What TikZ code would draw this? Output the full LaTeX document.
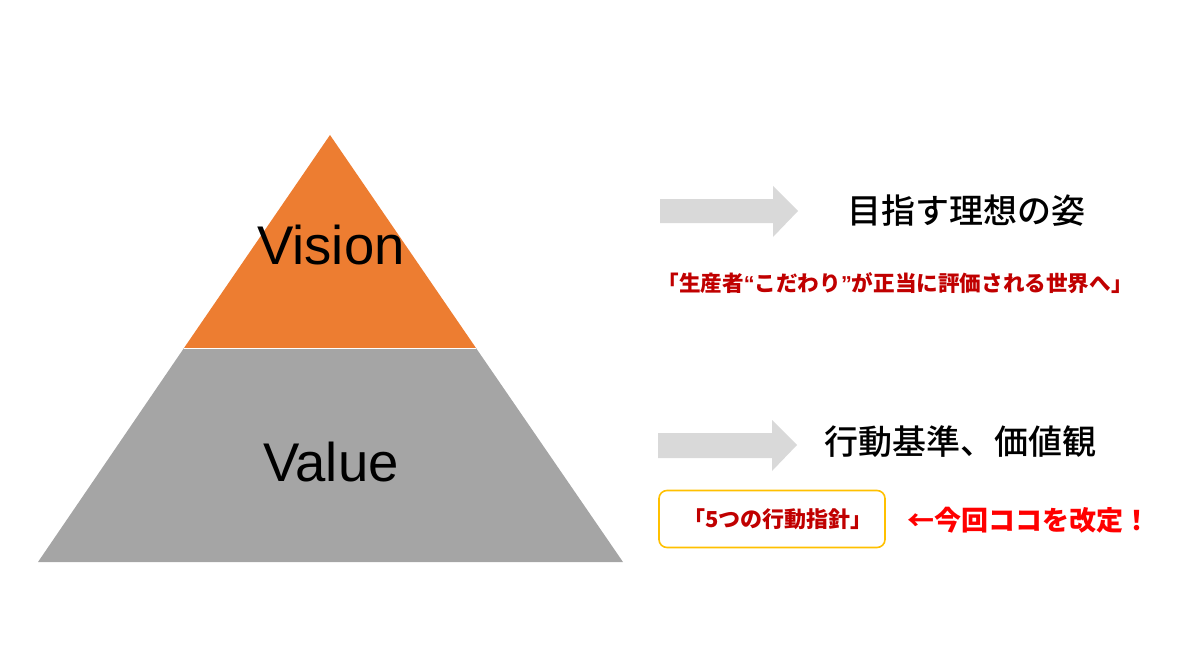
\documentclass[tikz,border=0pt]{standalone}
\usepackage{fontspec}
\setmainfont{Liberation Sans}
\newfontfamily\jp{Noto Sans CJK JP}
\newfontfamily\jpmed{Noto Sans CJK JP Medium}
\definecolor{vorange}{HTML}{ED7D31}
\definecolor{vgray}{HTML}{A5A5A5}
\definecolor{arrgray}{HTML}{D9D9D9}
\definecolor{dred}{HTML}{C00000}
\definecolor{bred}{HTML}{FF0000}
\definecolor{ybox}{HTML}{FFC000}
\tikzset{
  arrowfill/.style={fill=arrgray, draw=none},
  head/.style={font=\jpmed\fontsize{34}{34}\selectfont, text=black, inner sep=0pt},
  latin/.style={font=\fontsize{54.5}{54.5}\selectfont, text=black, inner sep=0pt}
}
\newcommand{\latq}[1]{{\fontspec{Liberation Sans}\bfseries #1}}
\begin{document}
\begin{tikzpicture}[x=1pt,y=-1pt]
\useasboundingbox (0,0) rectangle (1200,666);
\coordinate (apex) at (330,135);
\coordinate (bl) at (38,562);
\coordinate (br) at (623,562);
\coordinate (ml) at (184,348);
\coordinate (mr) at (476,348);
\fill[vgray] (ml) -- (mr) -- (br) -- (bl) -- cycle;
\fill[vorange] (apex) -- (mr) -- (ml) -- cycle;
\draw[white, line width=1pt] (ml) -- (mr);
\node[latin] (vision) at (331,245) {Vision};
\node[latin] (value) at (331,462) {Value};
% block arrows
\fill[arrowfill] (660,199) -- (773,199) -- (773,186) -- (798,211) -- (773,237) -- (773,223) -- (660,223) -- cycle;
\fill[arrowfill] (658,433) -- (772,433) -- (772,420) -- (797,445) -- (772,471) -- (772,458) -- (658,458) -- cycle;
\node[head, anchor=west] (t1) at (847,211) {目指す理想の姿};
\node[head, anchor=west] (t2) at (824,442) {行動基準、価値観};
\node[font=\jp\bfseries\fontsize{21.6}{22}\selectfont, text=dred, inner sep=0pt] (slogan) at (895,283) {「生産者\latq{“}こだわり\latq{”}が正当に評価される世界へ」};
\node[draw=ybox, line width=1.6pt, rounded corners=8pt, minimum width=226pt, minimum height=57pt, inner sep=0pt] (box) at (772,519) {};
\node[font=\jp\bfseries\fontsize{22}{22}\selectfont, text=dred, inner sep=0pt] (act) at (778,519) {「5つの行動指針」};
\node[font=\jp\bfseries\fontsize{27}{27}\selectfont, text=bred, inner sep=0pt, anchor=west] (note) at (907,520) {←今回ココを改定！};
\end{tikzpicture}
\end{document}
